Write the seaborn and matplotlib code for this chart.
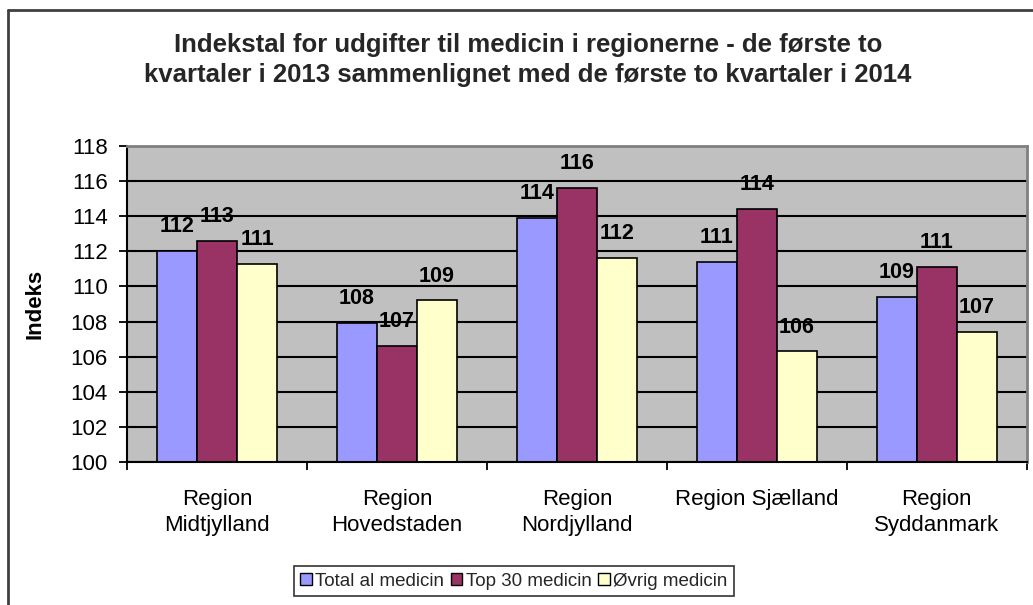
import pandas as pd
import numpy as np
import matplotlib
matplotlib.use("Agg")
import matplotlib.pyplot as plt
from matplotlib.lines import Line2D
import seaborn as sns

# values
regions = ["Region Midtjylland", "Region Hovedstaden", "Region Nordjylland",
           "Region Sjælland", "Region Syddanmark"]
tick_labels = ["Region\nMidtjylland", "Region\nHovedstaden", "Region\nNordjylland",
               "Region Sjælland", "Region\nSyddanmark"]
series = ["Total al medicin", "Top 30 medicin", "Øvrig medicin"]
total_al = [112.0, 107.9, 113.9, 111.4, 109.4]
top_30 = [112.6, 106.6, 115.6, 114.4, 111.1]
oevrig = [111.3, 109.2, 111.6, 106.3, 107.4]
colors = ["#9999FF", "#993366", "#FFFFCC"]

df = pd.DataFrame({
    "Region": regions * 3,
    "Serie": np.repeat(series, len(regions)),
    "Indeks": total_al + top_30 + oevrig,
})

sns.set_theme(style="white")
plt.rcParams["font.family"] = ["Liberation Sans", "DejaVu Sans"]
fs = 16

fig = plt.figure(figsize=(10.33, 6.05), dpi=100)
ax = fig.add_axes([0.123, 0.236, 0.871, 0.523])

sns.barplot(data=df, x="Region", y="Indeks", hue="Serie", palette=colors,
            width=0.667, edgecolor="black", linewidth=1.2, saturation=1,
            ax=ax, legend=True)

ax.set_facecolor("#C0C0C0")
ax.set_ylim(100, 118)
ax.set_xlim(-0.5, 4.5)
ax.set_yticks(np.arange(100, 119, 2))
ax.yaxis.grid(True, color="black", linewidth=1.5)
ax.set_axisbelow(True)

# category labels at centres, tick marks between groups
ax.set_xticks(range(len(regions)))
ax.set_xticklabels(tick_labels, fontsize=fs)
for lab in ax.get_xticklabels():
    lab.set_linespacing(1.35)
ax.set_xticks(np.arange(-0.5, 5, 1), minor=True)
ax.tick_params(axis="x", which="major", length=0, pad=19, colors="black")
ax.tick_params(axis="x", which="minor", length=6, width=1.3, direction="out",
               color="black", bottom=True)
ax.tick_params(axis="y", length=6, width=1.3, direction="out", left=True,
               labelsize=fs, colors="black", pad=8)

for side in ["left", "bottom"]:
    ax.spines[side].set_color("black")
    ax.spines[side].set_linewidth(1.5)
for side in ["top", "right"]:
    ax.spines[side].set_color("#808080")
    ax.spines[side].set_linewidth(2)

ax.set_xlabel("")
ax.set_ylabel("Indeks", fontsize=fs, fontweight="bold", color="black")
ax.yaxis.set_label_coords(-0.091, 0.5)

for cont in ax.containers:
    ax.bar_label(cont, fmt="%.0f", padding=10, fontsize=15.5,
                 fontweight="bold", color="black")

fig.text(0.511, 0.901,
         "Indekstal for udgifter til medicin i regionerne - de første to\n"
         "kvartaler i 2013 sammenlignet med de første to kvartaler i 2014",
         ha="center", va="center", fontsize=18.5, fontweight="bold",
         linespacing=1.3)

leg = ax.legend(loc="center", bbox_to_anchor=(0.4976, 0.039),
                bbox_transform=fig.transFigure, ncol=3, fontsize=13.5,
                frameon=True, fancybox=False, edgecolor="black",
                handlelength=0.6, handleheight=0.6, handletextpad=0.2,
                columnspacing=0.35, borderpad=0.35, borderaxespad=0)
leg.get_frame().set_linewidth(1.2)
for h in leg.legend_handles:
    h.set_edgecolor("black")
    h.set_linewidth(1)

# chart area border (left and top)
fig.add_artist(Line2D([8 / 1033, 8 / 1033], [0, 1 - 10 / 605],
                      transform=fig.transFigure, color="#404040", linewidth=2))
fig.add_artist(Line2D([8 / 1033, 1], [1 - 10 / 605, 1 - 10 / 605],
                      transform=fig.transFigure, color="#404040", linewidth=2))

fig.savefig("out.png", dpi=100)
